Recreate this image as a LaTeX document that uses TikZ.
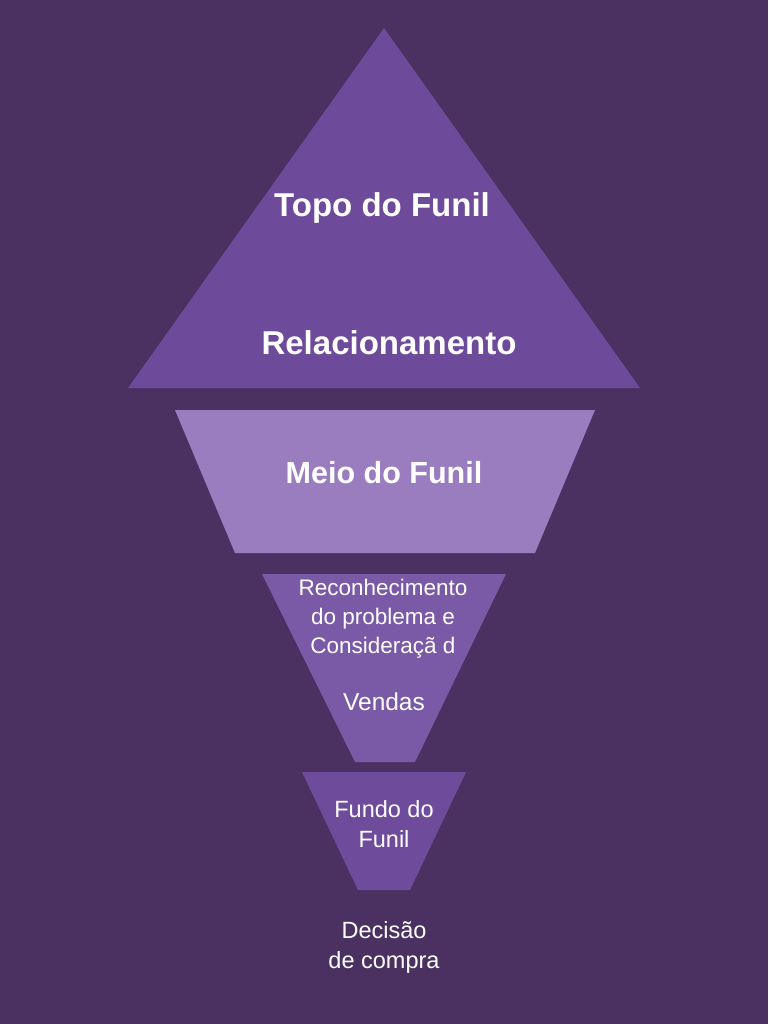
\documentclass[tikz,border=0pt]{standalone}
\usepackage{fontspec}
\setmainfont{Liberation Sans}
\definecolor{bg}{HTML}{4A3162}
\definecolor{tri}{HTML}{6E4A9A}
\definecolor{mid}{HTML}{9A7DBE}
\definecolor{low}{HTML}{7A5AA6}
\definecolor{bot}{HTML}{6F4B9C}
\tikzset{lbl/.style={text=white,align=center,inner sep=0pt},
big/.style={lbl,font=\fontsize{33}{36}\selectfont\bfseries},
med/.style={lbl,font=\fontsize{23.5}{30}\selectfont}}
\begin{document}
\begin{tikzpicture}[x=1pt,y=-1pt]
\fill[bg] (0,0) rectangle (768,1024);
\useasboundingbox (0,0) rectangle (768,1024);
\fill[tri] (384,28) -- (640,388) -- (128,388) -- cycle;
\fill[mid] (175,410) -- (595,410) -- (535,553) -- (235,553) -- cycle;
\fill[low] (262,574) -- (506,574) -- (415,762) -- (355,762) -- cycle;
\fill[bot] (302,772) -- (466,772) -- (410,890) -- (358,890) -- cycle;
\node[big] (t1) at (382,208) {Topo do Funil};
\node[big] (t2) at (389,343) {Relacionamento};
\node[big,font=\fontsize{30.5}{34}\selectfont\bfseries] (t3) at (384,473) {Meio do Funil};
\node[med,font=\fontsize{22.5}{29}\selectfont] (t4) at (383,619) {Reconhecimento\\do problema e\\Consideraçã d};
\node[med,font=\fontsize{24.5}{30}\selectfont] (t5) at (384,702) {Vendas};
\node[med] (t6) at (384,824) {Fundo do\\Funil};
\node[med] (t7) at (384,947) {Decisão\\de compra};
\end{tikzpicture}
\end{document}
